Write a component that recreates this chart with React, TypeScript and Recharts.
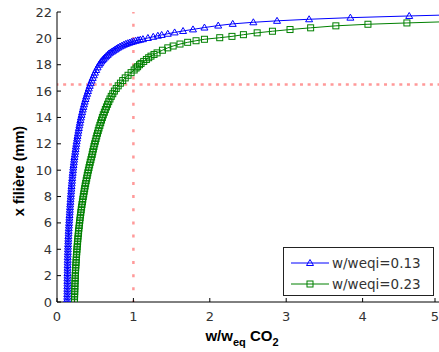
import { LineChart, Line, XAxis, YAxis, ReferenceLine } from "recharts"

// w/weq CO2 vs x filière
const xTicks = [0, 1, 2, 3, 4, 5]
const yTicks = [0, 2, 4, 6, 8, 10, 12, 14, 16, 18, 20, 22]

const refW = 1
const refX = 16.5

// [w/weq, x (mm)]
const curve013: [number, number][] = [
    [0.133, 0], [0.133, 0.2], [0.134, 0.4], [0.134, 0.6], [0.135, 0.8], [0.135, 1.0], [0.135, 1.2],
    [0.136, 1.4], [0.136, 1.6], [0.136, 1.8], [0.137, 2.0], [0.137, 2.2], [0.138, 2.4], [0.138, 2.6],
    [0.139, 2.8], [0.139, 3.0], [0.14, 3.2], [0.14, 3.4], [0.141, 3.6], [0.142, 3.8], [0.143, 4.0],
    [0.144, 4.2], [0.145, 4.4], [0.147, 4.6], [0.148, 4.8], [0.149, 5.0], [0.151, 5.2], [0.152, 5.4],
    [0.154, 5.6], [0.156, 5.8], [0.158, 6.0], [0.16, 6.2], [0.162, 6.4], [0.164, 6.6], [0.166, 6.8],
    [0.168, 7.0], [0.17, 7.2], [0.172, 7.4], [0.175, 7.6], [0.177, 7.8], [0.18, 8.0], [0.182, 8.2],
    [0.185, 8.4], [0.188, 8.6], [0.19, 8.8], [0.193, 9.0], [0.196, 9.2], [0.199, 9.4], [0.202, 9.6],
    [0.205, 9.8], [0.209, 10.0], [0.212, 10.2], [0.216, 10.4], [0.22, 10.6], [0.224, 10.8], [0.228, 11.0],
    [0.233, 11.2], [0.238, 11.4], [0.243, 11.6], [0.247, 11.8], [0.252, 12.0], [0.257, 12.2], [0.263, 12.4],
    [0.268, 12.6], [0.274, 12.8], [0.28, 13.0], [0.286, 13.2], [0.293, 13.4], [0.299, 13.6], [0.306, 13.8],
    [0.313, 14.0], [0.321, 14.2], [0.329, 14.4], [0.337, 14.6], [0.345, 14.8], [0.354, 15.0], [0.363, 15.2],
    [0.373, 15.4], [0.383, 15.6], [0.394, 15.8], [0.405, 16.0], [0.416, 16.2], [0.428, 16.4], [0.44, 16.6],
    [0.453, 16.8], [0.467, 17.0], [0.482, 17.2], [0.497, 17.4], [0.513, 17.6], [0.531, 17.8], [0.55, 18.0],
    [0.565, 18.12], [0.58, 18.25], [0.595, 18.35], [0.61, 18.45], [0.628, 18.55], [0.645, 18.65], [0.663, 18.75],
    [0.68, 18.85], [0.7, 18.93], [0.72, 19.0], [0.74, 19.08], [0.76, 19.15], [0.78, 19.23], [0.8, 19.3],
    [0.825, 19.38], [0.85, 19.45], [0.875, 19.52], [0.9, 19.58], [0.925, 19.63], [0.95, 19.68], [0.975, 19.73],
    [1.0, 19.77], [1.03, 19.82], [1.06, 19.86], [1.09, 19.9], [1.125, 19.94], [1.19, 20.03], [1.26, 20.12],
    [1.32, 20.2], [1.37, 20.26], [1.45, 20.35], [1.54, 20.45], [1.65, 20.56], [1.78, 20.68], [1.93, 20.82],
    [2.11, 20.97], [2.3, 21.1], [2.57, 21.22], [2.88, 21.33], [3.3, 21.45], [3.84, 21.57], [4.61, 21.7],
    [5.6, 21.85],
]

const curve023: [number, number][] = [
    [0.229, 0], [0.229, 0.2], [0.23, 0.4], [0.231, 0.6], [0.232, 0.8], [0.233, 1.0], [0.234, 1.2],
    [0.235, 1.4], [0.237, 1.6], [0.238, 1.8], [0.239, 2.0], [0.241, 2.2], [0.243, 2.4], [0.245, 2.6],
    [0.247, 2.8], [0.249, 3.0], [0.251, 3.2], [0.253, 3.4], [0.256, 3.6], [0.259, 3.8], [0.261, 4.0],
    [0.264, 4.2], [0.267, 4.4], [0.27, 4.6], [0.273, 4.8], [0.276, 5.0], [0.28, 5.2], [0.283, 5.4],
    [0.287, 5.6], [0.291, 5.8], [0.295, 6.0], [0.299, 6.2], [0.303, 6.4], [0.308, 6.6], [0.312, 6.8],
    [0.317, 7.0], [0.322, 7.2], [0.327, 7.4], [0.333, 7.6], [0.338, 7.8], [0.344, 8.0], [0.35, 8.2],
    [0.356, 8.4], [0.362, 8.6], [0.368, 8.8], [0.375, 9.0], [0.382, 9.2], [0.389, 9.4], [0.396, 9.6],
    [0.403, 9.8], [0.411, 10.0], [0.419, 10.2], [0.427, 10.4], [0.435, 10.6], [0.444, 10.8], [0.453, 11.0],
    [0.461, 11.2], [0.468, 11.4], [0.476, 11.6], [0.484, 11.8], [0.493, 12.0], [0.502, 12.2], [0.511, 12.4],
    [0.52, 12.6], [0.53, 12.8], [0.54, 13.0], [0.55, 13.2], [0.561, 13.4], [0.572, 13.6], [0.583, 13.8],
    [0.594, 14.0], [0.606, 14.2], [0.62, 14.4], [0.633, 14.6], [0.647, 14.8], [0.662, 15.0], [0.677, 15.2],
    [0.693, 15.4], [0.71, 15.6], [0.73, 15.8], [0.751, 16.0], [0.775, 16.2], [0.801, 16.4], [0.83, 16.6],
    [0.86, 16.8], [0.893, 17.0], [0.93, 17.2], [0.97, 17.4], [1.01, 17.6], [1.035, 17.75], [1.055, 17.85],
    [1.08, 18.0], [1.1, 18.1], [1.135, 18.25], [1.17, 18.4], [1.2, 18.53], [1.23, 18.65], [1.27, 18.78],
    [1.31, 18.9], [1.38, 19.1], [1.45, 19.28], [1.52, 19.42], [1.61, 19.57], [1.71, 19.7], [1.82, 19.82],
    [1.93, 19.93], [2.13, 20.05], [2.29, 20.15], [2.44, 20.28], [2.62, 20.42], [2.82, 20.54], [3.05, 20.67],
    [3.32, 20.8], [3.65, 20.95], [4.07, 21.07], [4.58, 21.17], [5.3, 21.3],
]

const seriesNames = ["w/weqi=0.13", "w/weqi=0.23"]
const BLUE = "#0000ff"
const GREEN = "#008000"
const TICK_FONT = "'DejaVu Sans', sans-serif"
const TITLE_FONT = "'Liberation Sans', Arial, sans-serif"

const toPoints = (arr: [number, number][]) => arr.map(([w, x]) => ({ w, x }))

const Triangle = ({ cx, cy, stroke = BLUE }: any) => (
    <path d={`M${cx},${cy - 3.5}L${cx + 3.5},${cy + 2.5}L${cx - 3.5},${cy + 2.5}Z`} fill="none" stroke={stroke} strokeWidth={1} />
)
const Square = ({ cx, cy, stroke = GREEN }: any) => (
    <rect x={cx - 3} y={cy - 3} width={6} height={6} fill="none" stroke={stroke} strokeWidth={1} />
)

const BottomTick = ({ x, y, payload }: any) => (
    <g>
        <line x1={x} y1={y} x2={x} y2={y - 4} stroke="#000" />
        <text x={x} y={y + 19} textAnchor="middle" fontSize={13} fontFamily={TICK_FONT} fill="#333">{payload.value}</text>
    </g>
)
const TopTick = ({ x, y }: any) => <line x1={x} y1={y} x2={x} y2={y + 4} stroke="#000" />
const LeftTick = ({ x, y, payload }: any) => (
    <g>
        <line x1={x} y1={y} x2={x + 4} y2={y} stroke="#000" />
        <text x={x - 5} y={y} dy={4.5} textAnchor="end" fontSize={13} fontFamily={TICK_FONT} fill="#333">{payload.value}</text>
    </g>
)
const RightTick = ({ x, y }: any) => <line x1={x} y1={y} x2={x - 4} y2={y} stroke="#000" />

const XTitle = ({ viewBox }: any) => {
    const cx = viewBox.x + viewBox.width / 2 - 6
    return (
        <text x={cx} y={viewBox.y + 39} textAnchor="middle" fontSize={15} fontWeight="bold" fontFamily={TITLE_FONT} fill="#000">
            w/w<tspan fontSize={11} dy={5}>eq</tspan><tspan dy={-5}> CO</tspan><tspan fontSize={11} dy={5}>2</tspan>
        </text>
    )
}
const YTitle = ({ viewBox }: any) => {
    const cy = viewBox.y + viewBox.height / 2 + 14
    return (
        <text x={24} y={cy} transform={`rotate(-90, 24, ${cy})`} textAnchor="middle" fontSize={14.5} fontWeight="bold" fontFamily={TITLE_FONT} fill="#000">
            x filière (mm)
        </text>
    )
}

export default function App() {
    return (
        <div style={{ position: "fixed", left: 0, top: 0, width: 439, height: 352, background: "#fff" }}>
            <LineChart width={439} height={352} margin={{ top: 12, right: 0, bottom: 0, left: 0 }}>
                <XAxis xAxisId="bottom" dataKey="w" type="number" domain={[0, 5]} ticks={xTicks} allowDataOverflow
                    height={50} tickSize={0} tickMargin={0} tickLine={false} axisLine={{ stroke: "#000" }}
                    tick={<BottomTick />} label={<XTitle />} />
                <XAxis xAxisId="top" orientation="top" dataKey="w" type="number" domain={[0, 5]} ticks={xTicks} allowDataOverflow
                    height={0} tickSize={0} tickMargin={0} tickLine={false} axisLine={{ stroke: "#000" }} tick={<TopTick />} />
                <YAxis yAxisId="left" dataKey="x" type="number" domain={[0, 22]} ticks={yTicks} allowDataOverflow
                    width={57} tickSize={0} tickMargin={0} tickLine={false} axisLine={{ stroke: "#000" }}
                    tick={<LeftTick />} label={<YTitle />} />
                <YAxis yAxisId="right" orientation="right" dataKey="x" type="number" domain={[0, 22]} ticks={yTicks} allowDataOverflow
                    width={0} tickSize={0} tickMargin={0} tickLine={false} axisLine={{ stroke: "#000" }} tick={<RightTick />} />

                <ReferenceLine xAxisId="bottom" yAxisId="left" x={refW} stroke="#ff5555" strokeWidth={2.5} strokeDasharray="3 10.18" strokeDashoffset={1.5} strokeOpacity={0.6} />
                <ReferenceLine xAxisId="bottom" yAxisId="left" y={refX} stroke="#ff5555" strokeWidth={2.5} strokeDasharray="3 4.64" strokeDashoffset={1.5} strokeOpacity={0.6} />

                <Line xAxisId="bottom" yAxisId="left" data={toPoints(curve013)} dataKey="x" name={seriesNames[0]}
                    type="linear" stroke={BLUE} strokeWidth={1} isAnimationActive={false}
                    dot={(p: any) => <Triangle key={`t-${p.index}`} cx={p.cx} cy={p.cy} />} />
                <Line xAxisId="bottom" yAxisId="left" data={toPoints(curve023)} dataKey="x" name={seriesNames[1]}
                    type="linear" stroke={GREEN} strokeWidth={1} isAnimationActive={false}
                    dot={(p: any) => <Square key={`s-${p.index}`} cx={p.cx} cy={p.cy} />} />
            </LineChart>

            <div style={{ position: "absolute", left: 283, top: 247, width: 151, height: 49, border: "1px solid #222", background: "#fff", boxSizing: "border-box" }}>
                <svg width={151} height={49} style={{ position: "absolute", left: 0, top: 0 }}>
                    {seriesNames.map((name, i) => {
                        const y = 15 + i * 21
                        const color = i === 0 ? BLUE : GREEN
                        return (
                            <g key={name}>
                                <line x1={7} x2={45} y1={y} y2={y} stroke={color} />
                                {i === 0 ? <Triangle cx={26} cy={y} stroke={color} /> : <Square cx={26} cy={y} stroke={color} />}
                                <text x={48} y={y} dy={5} fontSize={13.5} fontFamily={TICK_FONT} fill="#333">{name}</text>
                            </g>
                        )
                    })}
                </svg>
            </div>
        </div>
    )
}
